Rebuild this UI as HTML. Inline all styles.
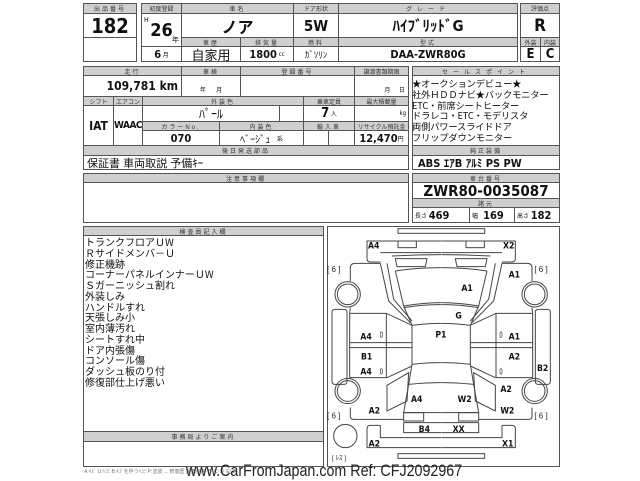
<!DOCTYPE html>
<html><head><meta charset="utf-8"><style>
body{margin:0;width:640px;height:480px;background:#fff;position:relative;overflow:hidden;font-family:"DejaVu Sans Condensed","Liberation Sans","Noto Sans CJK JP",sans-serif;color:#111}
.b{position:absolute;border:1px solid #555;box-sizing:border-box;display:flex;align-items:center;justify-content:center;white-space:nowrap;overflow:hidden}
.l{background:#cfcfcf;font-size:6px;color:#333;letter-spacing:2px;font-family:"Liberation Sans","Noto Sans CJK JP",sans-serif}
.v{font-weight:bold}
.t{position:absolute;white-space:nowrap}
</style></head><body>
<!-- header -->
<div class="b l" style="left:83px;top:3px;width:54px;height:11px">出品番号</div>
<div class="b v" style="left:83px;top:13px;width:54px;height:25px;font-size:20px">182</div>
<div class="b" style="left:83px;top:37px;width:54px;height:25px"></div>

<div class="b l" style="left:141px;top:3px;width:41px;height:11px;letter-spacing:0">初度登録</div>
<div class="b v" style="left:141px;top:13px;width:41px;height:34px;font-size:18px">26<span style="font-size:7px;font-weight:normal;position:absolute;left:2px;top:2px">H</span><span style="font-size:7px;font-weight:normal;position:absolute;right:2px;bottom:1px">年</span></div>
<div class="b v" style="left:141px;top:46px;width:41px;height:16px;font-size:11px">6 <span style="font-size:6px;font-weight:normal">&nbsp;月</span></div>

<div class="b l" style="left:181px;top:3px;width:113px;height:11px">車名</div>
<div class="b v" style="left:181px;top:13px;width:113px;height:25px;font-size:16px">ノア</div>
<div class="b l" style="left:181px;top:37px;width:60px;height:10px">車歴</div>
<div class="b l" style="left:240px;top:37px;width:54px;height:10px">排気量</div>
<div class="b" style="left:181px;top:46px;width:60px;height:16px;font-size:13px">自家用</div>
<div class="b v" style="left:240px;top:46px;width:54px;height:16px;font-size:11px">1800 <span style="font-size:6px;font-weight:normal">&nbsp;cc</span></div>

<div class="b l" style="left:293px;top:3px;width:46px;height:11px;letter-spacing:0">ドア形状</div>
<div class="b v" style="left:293px;top:13px;width:46px;height:25px;font-size:15px">5W</div>
<div class="b l" style="left:293px;top:37px;width:46px;height:10px">燃料</div>
<div class="b" style="left:293px;top:46px;width:46px;height:16px;font-size:9px">ｶﾞｿﾘﾝ</div>

<div class="b l" style="left:338px;top:3px;width:180px;height:11px;letter-spacing:5px">グレード</div>
<div class="b v" style="left:338px;top:13px;width:180px;height:25px;font-size:15px">ﾊｲﾌﾞﾘｯﾄﾞG</div>
<div class="b l" style="left:338px;top:37px;width:180px;height:10px">型式</div>
<div class="b v" style="left:338px;top:46px;width:180px;height:16px;font-size:11px">DAA-ZWR80G</div>

<div class="b l" style="left:520px;top:3px;width:40px;height:11px;letter-spacing:0">評価点</div>
<div class="b v" style="left:520px;top:13px;width:40px;height:25px;font-size:17px">R</div>
<div class="b l" style="left:520px;top:37px;width:21px;height:10px;letter-spacing:0">外装</div>
<div class="b l" style="left:540px;top:37px;width:20px;height:10px;letter-spacing:0">内装</div>
<div class="b v" style="left:520px;top:46px;width:21px;height:16px;font-size:13px">E</div>
<div class="b v" style="left:540px;top:46px;width:20px;height:16px;font-size:13px">C</div>

<!-- row2 -->
<div class="b l" style="left:83px;top:66px;width:99px;height:10px">走行</div>
<div class="b l" style="left:181px;top:66px;width:60px;height:10px">車検</div>
<div class="b l" style="left:240px;top:66px;width:115px;height:10px">登録番号</div>
<div class="b l" style="left:354px;top:66px;width:55px;height:10px;letter-spacing:0">譲渡書類期限</div>
<div class="b v" style="left:83px;top:75px;width:99px;height:22px;font-size:12px;justify-content:flex-end;padding-right:3px">109,781 km</div>
<div class="b" style="left:181px;top:75px;width:60px;height:22px;font-size:6px;align-items:flex-end;padding-bottom:2px">年 &nbsp;&nbsp;&nbsp;&nbsp;&nbsp;月</div>
<div class="b" style="left:240px;top:75px;width:115px;height:22px"></div>
<div class="b" style="left:354px;top:75px;width:55px;height:22px;font-size:6px;align-items:flex-end;justify-content:flex-end;padding:0 3px 2px 0">月 &nbsp;&nbsp;&nbsp;&nbsp;日</div>

<div class="b l" style="left:83px;top:96px;width:31px;height:10px;letter-spacing:0">シフト</div>
<div class="b l" style="left:113px;top:96px;width:30px;height:10px;letter-spacing:0">エアコン</div>
<div class="b l" style="left:142px;top:96px;width:162px;height:10px">外装色</div>
<div class="b l" style="left:303px;top:96px;width:52px;height:10px;letter-spacing:0">乗車定員</div>
<div class="b l" style="left:354px;top:96px;width:55px;height:10px;letter-spacing:0">最大積載量</div>
<div class="b v" style="left:83px;top:105px;width:31px;height:41px;font-size:12px">IAT</div>
<div class="b v" style="left:113px;top:105px;width:30px;height:41px;font-size:10px;letter-spacing:-0.5px">WAAC</div>
<div class="b" style="left:142px;top:105px;width:138px;height:17px;font-size:12px">ﾊﾟｰﾙ</div>
<div class="b" style="left:279px;top:105px;width:25px;height:17px"></div>
<div class="b v" style="left:303px;top:105px;width:52px;height:17px;font-size:13px">7 <span style="font-size:6px;font-weight:normal">&nbsp;人</span></div>
<div class="b" style="left:354px;top:105px;width:55px;height:17px;font-size:6px;justify-content:flex-end;padding-right:2px">kg</div>
<div class="b l" style="left:142px;top:121px;width:78px;height:10px">カラーNo.</div>
<div class="b l" style="left:219px;top:121px;width:85px;height:10px">内装色</div>
<div class="b l" style="left:303px;top:121px;width:52px;height:10px">輸入車</div>
<div class="b l" style="left:354px;top:121px;width:55px;height:10px;letter-spacing:0">リサイクル預託金</div>
<div class="b v" style="left:142px;top:130px;width:78px;height:16px;font-size:11px">070</div>
<div class="b" style="left:219px;top:130px;width:85px;height:16px;font-size:10px">ﾍﾞｰｼﾞｭ <span style="font-size:6px">&nbsp;&nbsp;&nbsp;&nbsp;系</span></div>
<div class="b" style="left:303px;top:130px;width:26px;height:16px"></div>
<div class="b" style="left:328px;top:130px;width:27px;height:16px"></div>
<div class="b v" style="left:354px;top:130px;width:55px;height:16px;font-size:11px">12,470<span style="font-size:6px;font-weight:normal">円</span></div>
<div class="b l" style="left:83px;top:145px;width:326px;height:11px">後日発送部品</div>
<div class="b" style="left:83px;top:155px;width:326px;height:15px;font-size:11px;justify-content:flex-start;padding-left:3px">保証書 車両取説 予備ｷｰ</div>

<div class="b l" style="left:412px;top:66px;width:148px;height:10px;letter-spacing:5px">セールスポイント</div>
<div class="b" style="left:412px;top:75px;width:148px;height:71px"></div>
<div class="t" style="left:412px;top:78px;font-size:9.3px;line-height:10.8px;letter-spacing:-0.2px;font-family:'Noto Sans CJK JP',sans-serif">★オークションデビュー★<br>社外ＨＤＤナビ★バックモニター<br>ETC・前席シートヒーター<br>ドラレコ・ETC・モデリスタ<br>両側パワースライドドア<br>フリップダウンモニター</div>
<div class="b l" style="left:412px;top:145px;width:148px;height:11px">純正装備</div>
<div class="b v" style="left:412px;top:155px;width:148px;height:15px;font-size:11px;justify-content:flex-start;padding-left:5px">ABS ｴｱB ｱﾙﾐ PS PW</div>

<!-- row3 -->
<div class="b l" style="left:83px;top:173px;width:326px;height:10px">注意事項欄</div>
<div class="b" style="left:83px;top:182px;width:326px;height:41px"></div>
<div class="b l" style="left:412px;top:173px;width:148px;height:10px">車台番号</div>
<div class="b v" style="left:412px;top:182px;width:148px;height:17px;font-size:15px">ZWR80-0035087</div>
<div class="b l" style="left:412px;top:198px;width:148px;height:10px">諸元</div>
<div class="b v" style="left:412px;top:207px;width:58px;height:16px;font-size:11px;justify-content:flex-start;padding-left:2px"><span style="font-size:6px;font-weight:normal">長さ&nbsp;</span>469</div>
<div class="b v" style="left:469px;top:207px;width:46px;height:16px;font-size:11px;justify-content:flex-start;padding-left:2px"><span style="font-size:6px;font-weight:normal">幅&nbsp;&nbsp;&nbsp;</span>169</div>
<div class="b v" style="left:514px;top:207px;width:46px;height:16px;font-size:11px;justify-content:flex-start;padding-left:2px"><span style="font-size:6px;font-weight:normal">高さ&nbsp;</span>182</div>

<!-- inspector -->
<div class="b" style="left:83px;top:226px;width:241px;height:241px"></div>
<div class="b l" style="left:83px;top:226px;width:241px;height:10px">検査員記入欄</div>
<div class="t" style="left:85px;top:237px;font-size:10px;line-height:10.75px;font-family:'Noto Sans CJK JP',sans-serif">トランクフロアＵW<br>Ｒサイドメンバ－Ｕ<br>修正機跡<br>コーナーパネルインナーＵW<br>Ｓガーニッシュ割れ<br>外装しみ<br>ハンドルすれ<br>天張しみ小<br>室内薄汚れ<br>シートすれ中<br>ドア内張傷<br>コンソール傷<br>ダッシュ板のり付<br>修復部仕上げ悪い</div>
<div class="b l" style="left:83px;top:431px;width:241px;height:11px">事務局よりご案内</div>

<!-- car diagram -->
<div class="b" style="left:327px;top:226px;width:233px;height:241px"></div>
<svg style="position:absolute;left:327px;top:226px" width="233" height="240" viewBox="0 0 699 720" fill="none" stroke="#444" stroke-width="3">
<g id="half">
<path d="M160,108 L130,108 Q120,108 120,98 L120,45 L342,45 M342,80 L160,80 Z"/>
<rect x="213" y="45" width="55" height="20"/>
<path d="M195,90 Q270,86 342,86 M205,98 L300,98 L295,122 L210,122 Z"/>
<path d="M205,135 Q270,125 342,125 M205,135 L230,240 Q290,230 342,230 M230,240 L255,298 Q300,292 342,292 M230,245 Q290,235 342,236"/>
<path d="M255,298 L255,415 Q300,410 342,410 M255,415 L245,475 Q300,470 342,470 M245,475 L230,560 L342,560"/>
<rect x="230" y="560" width="60" height="25"/>
<path d="M230,590 L342,590 M230,590 L230,620 L342,620"/>
<path d="M160,598 L160,635 L342,635 M160,598 L130,598 Q120,598 120,608 L120,665 L342,665"/>
<path d="M70,165 L70,125 Q70,112 85,112 L160,112 L185,225 L250,290 M180,112 L200,220 L255,285"/>
<circle cx="62" cy="205" r="38"/><circle cx="62" cy="205" r="31"/>
<circle cx="62" cy="495" r="38"/><circle cx="62" cy="495" r="31"/>
<rect x="15" y="250" width="45" height="225" rx="8"/>
<path d="M68,262 L178,262 L255,298 M68,262 L68,455 M68,350 L255,350 M68,365 L255,365 M178,262 L178,455 M68,455 L180,455 L255,420"/>
<path d="M180,478 L245,440 L240,525 L180,555 Z"/>
<path d="M70,545 L70,572 Q70,580 80,580 L230,580"/>
<path d="M70,245 L68,262"/>
<rect x="160" y="318" width="6" height="16" rx="3" stroke-width="2"/>
<rect x="160" y="428" width="6" height="16" rx="3" stroke-width="2"/>
</g>
<use href="#half" transform="translate(685,0) scale(-1,1)"/>
<rect x="213" y="8" width="260" height="14"/>
<rect x="213" y="683" width="260" height="14"/>
<circle cx="55" cy="630" r="35"/>
<g fill="#111" stroke="none" font-family="DejaVu Sans Condensed, Liberation Sans, sans-serif" font-weight="bold" font-size="26">
<text x="123" y="68">A4</text><text x="528" y="68">X2</text>
<text x="545" y="155">A1</text><text x="403" y="195">A1</text>
<text x="385" y="278">G</text><text x="325" y="335">P1</text>
<text x="100" y="340">A4</text><text x="545" y="340">A1</text>
<text x="102" y="400">B1</text><text x="545" y="400">A2</text>
<text x="100" y="445">A4</text><text x="630" y="435">B2</text>
<text x="520" y="498">A2</text><text x="252" y="528">A4</text>
<text x="392" y="528">W2</text><text x="125" y="563">A2</text>
<text x="520" y="563">W2</text><text x="275" y="618">B4</text>
<text x="377" y="618">XX</text><text x="125" y="662">A2</text>
<text x="525" y="662">X1</text>
</g>
<g fill="#222" stroke="none" font-family="Liberation Sans, sans-serif" font-size="24">
<text x="0" y="138">[ 6 ]</text><text x="622" y="138">[ 6 ]</text>
<text x="0" y="578">[ 6 ]</text><text x="622" y="578">[ 6 ]</text>
<text x="15" y="702" font-size="20">[ ﾚｽ ]</text>
</g>
</svg>

<!-- footer -->
<div class="t" style="left:84px;top:468px;font-size:5px;color:#777;font-family:'Liberation Sans','Noto Sans CJK JP',sans-serif">A:ｷｽﾞ U:ﾍｺﾐ B:ｷｽﾞを伴うﾍｺﾐ P:塗装 ... 修復歴 評価点(A･B･C･D･E) 2</div>
<div class="t" style="left:186px;top:461px;font-size:17px;color:#222;font-family:'Liberation Sans',sans-serif;transform:scaleX(0.84);transform-origin:left top">www.CarFromJapan.com Ref: CFJ2092967</div>
</body></html>
